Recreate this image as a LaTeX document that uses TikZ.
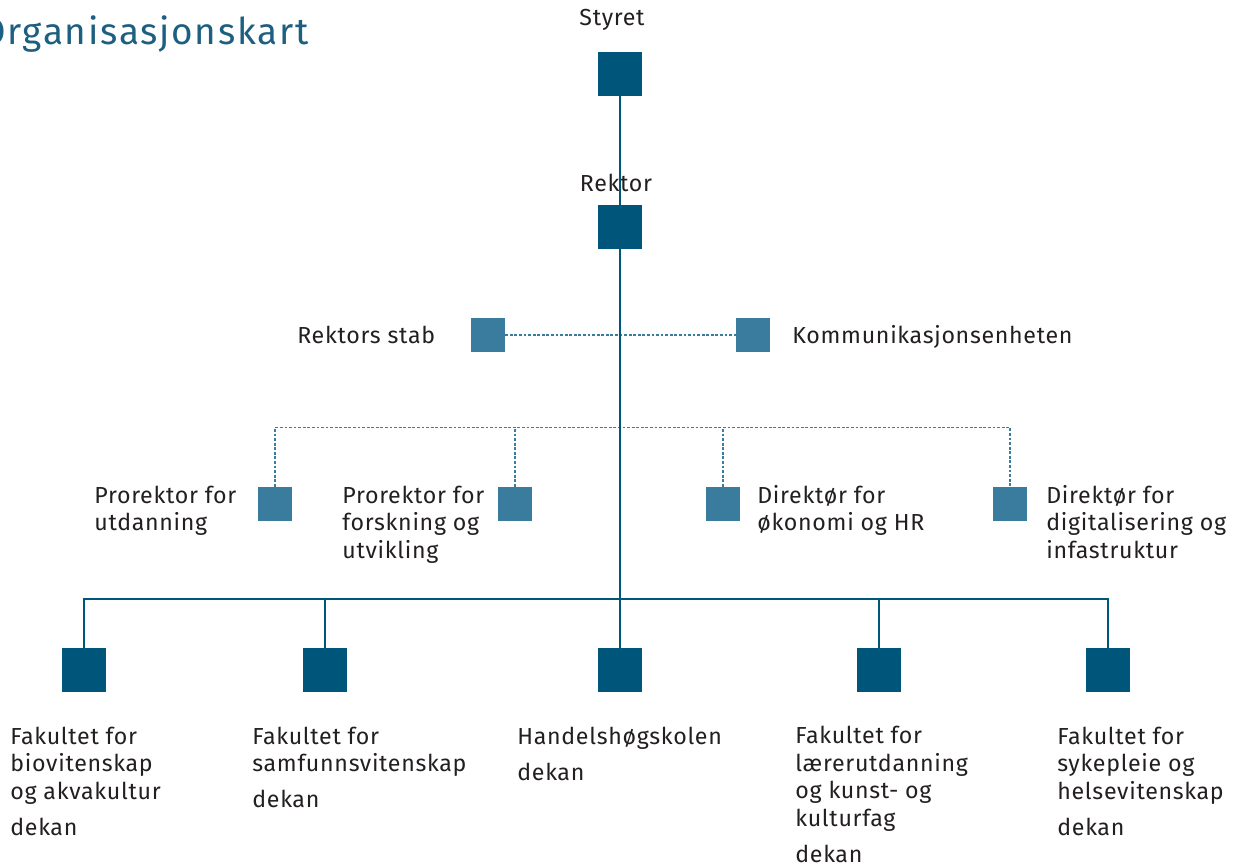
\documentclass[tikz,border=0pt]{standalone}
\usepackage{fontspec}
\setmainfont[LetterSpace=3]{Fira Sans}
\newfontfamily\titlefont[LetterSpace=4.8]{Fira Sans}
\definecolor{unidark}{HTML}{00557A}
\definecolor{unilight}{HTML}{3A7C9E}
\definecolor{unitext}{HTML}{231F20}
\definecolor{unititle}{HTML}{1D5F80}

\begin{document}
\begin{tikzpicture}[x=0.02cm, y=-0.02cm,
    bigbox/.style={rectangle, fill=unidark, minimum size=0.88cm, inner sep=0},
    smallbox/.style={rectangle, fill=unilight, minimum size=0.68cm, inner sep=0},
    orgtext/.style={text=unitext, align=left, inner sep=0, font=\fontsize{13.2}{15.6}\selectfont},
    mainline/.style={draw=unidark, line width=1.1pt},
    staffline/.style={draw=unilight, line width=0.6pt, dash pattern=on 1.6pt off 1pt}]
    \useasboundingbox (0,0) rectangle (1234,868);

    % title, cut at the left edge
    \node[anchor=base east, inner sep=0, text=unititle, font=\titlefont\fontsize{21}{24}\selectfont] (title) at (309,45) {Organisasjonskart};

    % board and rector
    \node[bigbox] (styret) at (620,74) {};
    \node[orgtext, anchor=base] (styrettxt) at (612,26) {Styret};
    \node[bigbox] (rektor) at (620,227) {};
    \node[orgtext, anchor=base] (rektortxt) at (616,192) {Rektor};

    % staff units beside the rector
    \node[smallbox] (stab) at (488,335) {};
    \node[orgtext, anchor=base west] (stabtxt) at (297,343) {Rektors stab};
    \node[smallbox] (komm) at (753,335) {};
    \node[orgtext, anchor=base west] (kommtxt) at (792,343) {Kommunikasjonsenheten};

    % prorectors and directors (base = last line)
    \node[smallbox] (prou) at (275,504) {};
    \node[orgtext, anchor=base west] (proutxt) at (94,530.5) {Prorektor for\\utdanning};
    \node[smallbox] (profo) at (515,504) {};
    \node[orgtext, anchor=base west] (profotxt) at (342,558) {Prorektor for\\forskning og\\utvikling};
    \node[smallbox] (dirok) at (723,504) {};
    \node[orgtext, anchor=base west] (diroktxt) at (757,530.5) {Direktør for\\økonomi og HR};
    \node[smallbox] (dirdig) at (1010,504) {};
    \node[orgtext, anchor=base west] (dirdigtxt) at (1046,558) {Direktør for\\digitalisering og\\infastruktur};

    % faculties
    \node[bigbox] (biofak) at (84,670) {};
    \node[orgtext, anchor=base west] (biofaktxt) at (10,835) {Fakultet for\\biovitenskap\\og akvakultur\\[4.8pt]dekan};
    \node[bigbox] (samfak) at (325,670) {};
    \node[orgtext, anchor=base west] (samfaktxt) at (252,807.5) {Fakultet for\\samfunnsvitenskap\\[4.8pt]dekan};
    \node[bigbox] (handel) at (620,670) {};
    \node[orgtext, anchor=base west] (handeltxt) at (517,780) {Handelshøgskolen\\[4.8pt]dekan};
    \node[bigbox] (laerfak) at (879,670) {};
    \node[orgtext, anchor=base west] (laerfaktxt) at (795,862) {Fakultet for\\lærerutdanning\\og kunst- og\\kulturfag\\[4.8pt]dekan};
    \node[bigbox] (helsfak) at (1108,670) {};
    \node[orgtext, anchor=base west] (helsfaktxt) at (1057,835) {Fakultet for\\sykepleie og\\helsevitenskap\\[4.8pt]dekan};

    % dotted staff lines
    \draw[staffline] (stab) -- (komm);
    \draw[staffline] (prou.north) -- ++(0,-59) -| (dirdig.north);
    \draw[staffline] (profo.north) -- ++(0,-59);
    \draw[staffline] (dirok.north) -- ++(0,-59);

    % line of command
    \draw[mainline] (styret) -- (rektor);
    \draw[mainline] (rektor) -- (handel);
    \draw[mainline] (biofak.north) -- ++(0,-49) -| (helsfak.north);
    \draw[mainline] (samfak.north) -- ++(0,-49);
    \draw[mainline] (laerfak.north) -- ++(0,-49);
\end{tikzpicture}
\end{document}
